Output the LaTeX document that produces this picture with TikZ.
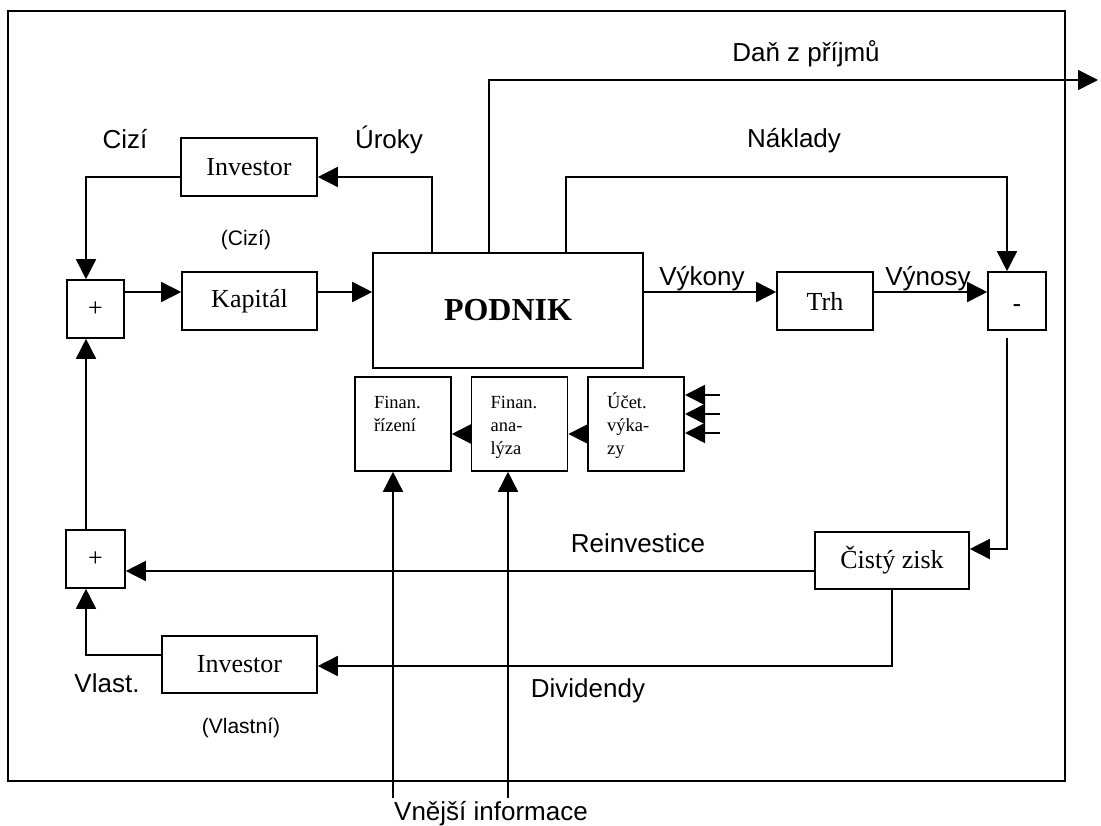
\documentclass[tikz,border=0pt]{standalone}
\usepackage{fontspec}
\setmainfont{Liberation Serif}
\setsansfont{Liberation Sans}
\usepackage{tikz}
\usetikzlibrary{arrows.meta,calc,positioning}
\newcommand{\infotext}[1]{\parbox[c][64pt][t]{58pt}{\raggedright\strut #1}}

\begin{document}
\begin{tikzpicture}[x=1pt,y=-1pt,line width=1.6pt,
    block/.style={draw, minimum width=#1, minimum height=58pt, inner sep=0pt,
        font=\fontsize{26}{30}\selectfont},
    infobox/.style={draw, minimum width=96pt, minimum height=94pt, inner sep=0pt,
        font=\fontsize{18.5}{23}\selectfont},
    flow/.style={-{Triangle[length=20pt,width=20pt]}},
    lbl/.style={font=\sffamily\fontsize{26}{30}\selectfont, anchor=base, inner sep=0pt},
    small/.style={font=\sffamily\fontsize{21}{25}\selectfont}]
        \useasboundingbox (0,0) rectangle (1101,826);
        \draw (8,11) rectangle (1065,781);

        % boxes
        \node[block=270pt, minimum height=115pt, font=\bfseries\fontsize{32}{36}\selectfont] (podnik) at (508,310.5) {PODNIK};
        \node[block=136pt] (invC) at (249,167) {Investor};
        \node[block=135pt] (kap) at (249.5,301) {Kapitál};
        \node[block=57pt] (plusA) at (95.5,309) {+};
        \node[block=59pt] (plusB) at (95.5,559) {+};
        \node[block=96pt] (trh) at (825,301) {Trh};
        \node[block=58pt, font=\sffamily\fontsize{26}{30}\selectfont, text height=24pt, text depth=0pt] (minus) at (1017,301) {-};
        \node[block=154pt, minimum height=57pt] (zisk) at (892,560.5) {Čistý zisk};
        \node[block=155pt, minimum height=57pt] (invV) at (239.5,664.5) {Investor};
        \node[infobox] (fr) at (403,424) {\infotext{Finan.\\řízení}};
        \node[infobox, right=19pt of fr] (fa) {\infotext{Finan.\\ana-\\lýza}};
        \node[infobox, right=19pt of fa] (uv) {\infotext{Účet.\\výka-\\zy}};

        % rows and columns of the connectors
        \coordinate (rowT) at (0,80);
        \coordinate (rowU) at (0,177);
        \coordinate (rowK) at (0,292);
        \coordinate (rowI) at (0,434);
        \coordinate (rowZ) at (0,549);
        \coordinate (rowR) at (0,571);
        \coordinate (rowV) at (0,655);
        \coordinate (rowD) at (0,666);
        \coordinate (colL) at (86,0);
        \coordinate (colU) at (432,0);
        \coordinate (colD) at (489,0);
        \coordinate (colN) at (566,0);
        \coordinate (colR) at (1007,0);
        \coordinate (tax) at (1098,80);
        \coordinate (ext1) at (393,798);
        \coordinate (ext2) at (508,798);

        % connectors
        \draw[flow] (podnik.north -| colU) |- (invC.east |- rowU);
        \draw[flow] (invC.west |- rowU) -| (plusA.north -| colL);
        \draw[flow] (plusA.east |- rowK) -- (kap.west |- rowK);
        \draw[flow] (kap.east |- rowK) -- (podnik.west |- rowK);
        \draw[flow] (podnik.east |- rowK) -- (trh.west |- rowK);
        \draw[flow] (trh.east |- rowK) -- (minus.west |- rowK);
        \draw[flow] (podnik.north -| colD) |- (tax);
        \draw[flow] (podnik.north -| colN) |- (colR |- rowU) -- (minus.north -| colR);
        \draw[flow] ($(minus.south -| colR)+(0,7)$) |- (zisk.east |- rowZ);
        \draw[flow] (zisk.west |- rowR) -- (plusB.east |- rowR);
        \draw[flow] (zisk.south) |- (invV.east |- rowD);
        \draw[flow] (invV.west |- rowV) -| (plusB.south -| colL);
        \draw[flow] (plusB.north -| colL) -- (plusA.south -| colL);
        \draw[flow] (uv.west |- rowI) -- (fa.east |- rowI);
        \draw[flow] (fa.west |- rowI) -- (fr.east |- rowI);
        \foreach \i/\y in {1/395,2/414,3/433} {
            \coordinate (in\i) at (720,\y);
            \draw[flow] (in\i) -- (uv.east |- in\i);
        }
        \draw[flow] (ext1) -- (ext1 |- fr.south);
        \draw[flow] (ext2) -- (ext2 |- fa.south);

        % labels
        \node[lbl] (lDan) at (806,62) {Daň z příjmů};
        \node[lbl] (lNakl) at (794,148) {Náklady};
        \node[lbl] (lCizi) at (125,149) {Cizí};
        \node[lbl] (lUroky) at (389,149) {Úroky};
        \node[lbl, small] (lCiziS) at (246,246) {(Cizí)};
        \node[lbl] (lVykony) at (702,286) {Výkony};
        \node[lbl] (lVynosy) at (928,286) {Výnosy};
        \node[lbl] (lReinv) at (638,552) {Reinvestice};
        \node[lbl] (lDivid) at (588,697) {Dividendy};
        \node[lbl] (lVlast) at (107,692) {Vlast.};
        \node[lbl, small] (lVlastS) at (241,733) {(Vlastní)};
        \node[lbl] (lExt) at (491,820) {Vnější informace};
\end{tikzpicture}
\end{document}
